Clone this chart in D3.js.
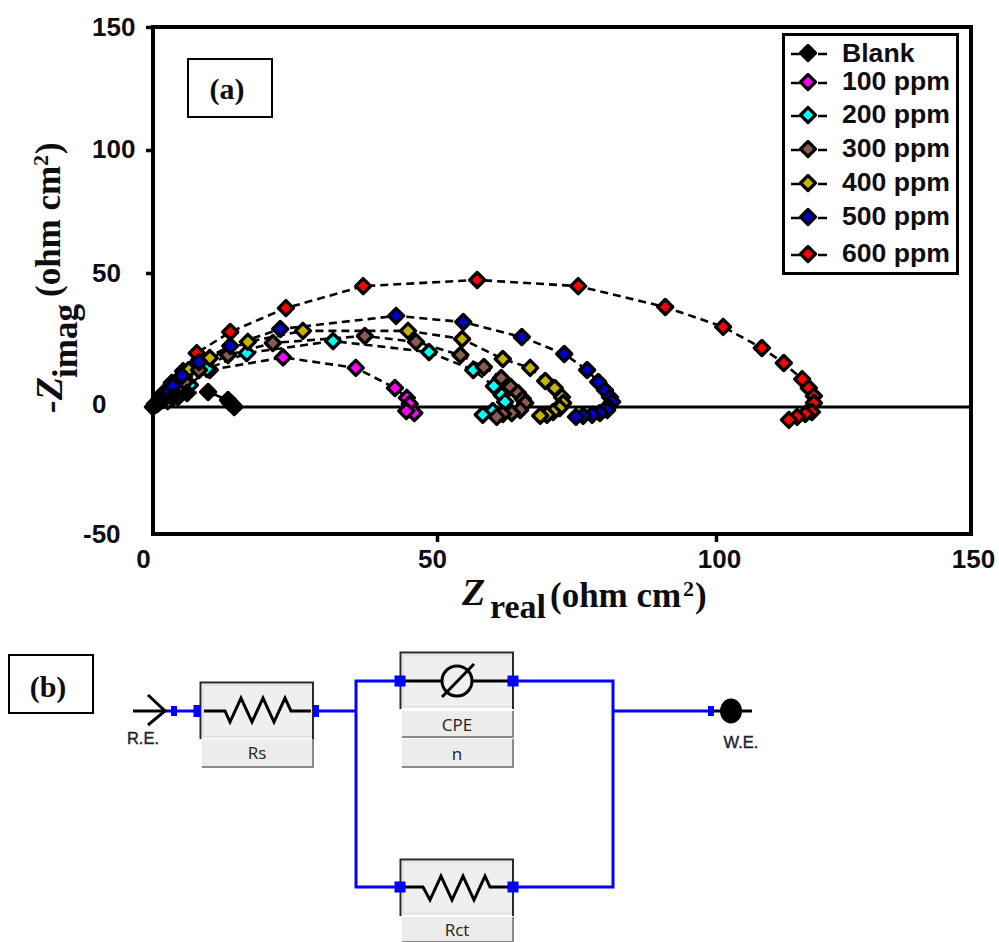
<!DOCTYPE html>
<html>
<head>
<meta charset="utf-8">
<script src="https://cdn.jsdelivr.net/npm/d3@7"></script>
<style>html,body{margin:0;padding:0;background:#fff}svg{display:block}</style>
</head>
<body>
<div id="chart"></div>
<script>
const seriesNames = ["Blank","100 ppm","200 ppm","300 ppm","400 ppm","500 ppm","600 ppm"];
const seriesColors = ["#000000","#ff00ff","#00ffff","#8b5a50","#c4b400","#0000cc","#ff0000"];
const xTicks = [0,50,100,150];
const yTicks = [-50,0,50,100,150];

const blankRe = [0,0.7,1.8,3.5,6.0,9.7,13.2,13.6,14.1,14.3];
const blankIm = [0,1.1,2.6,3.5,5.2,5.6,2.6,1.5,0.7,0];
const p100Re = [0.5,1.6,3.0,5.1,10.0,22.9,35.7,42.6,44.7,45.2,46.0,44.6];
const p100Im = [1.1,3.4,6.0,10.1,13.8,18.5,14.6,7.1,3.4,1.1,-2.4,-1.6];
const p200Re = [1.2,2.6,4.4,6.5,9.5,16.5,31.7,48.6,56.5,60.2,61.6,62.2,60.0,58.2];
const p200Im = [1.9,2.2,3.7,8.2,14.2,20.1,24.6,20.5,13.8,7.8,4.5,1.9,-1.6,-3.1];
const p300Re = [0.4,1.2,3.0,5.6,8.1,13.2,21.1,37.3,46.3,54.2,58.4,61.5,63.2,64.5,65.4,65.8,64.9,63.4,61.8,60.7];
const p300Im = [1.1,3.0,5.6,9.3,13.8,19.4,23.9,26.5,24.3,19.4,14.9,10.8,7.5,5.2,3.0,1.5,-1.2,-2.4,-2.8,-3.9];
const p400Re = [0.4,1.2,2.5,3.9,6.3,10.0,16.7,26.4,44.9,54.5,61.8,66.7,69.4,71.1,72.4,72.6,72.0,70.8,69.7,68.5];
const p400Im = [1.1,3.0,6.0,9.0,13.8,18.3,24.3,28.4,28.4,25.4,17.9,14.6,9.7,7.1,3.7,1.5,-0.4,-2.0,-3.1,-3.5];
const p500Re = [0.9,1.8,2.6,3.5,5.1,8.1,13.6,22.4,42.8,54.7,65.2,72.8,76.9,78.9,80.1,81.0,81.4,80.6,80.5,79.2,77.8,76.2,74.9];
const p500Im = [1.5,3.4,5.2,7.8,11.6,16.8,22.8,29.1,34.0,31.7,26.1,19.8,13.8,9.3,6.3,3.7,1.9,0,-1.2,-2.4,-3.1,-3.5,-3.9];
const p600Re = [0.9,1.9,3.3,5.3,7.7,13.6,23.4,37.0,57.2,75.3,90.9,101.4,109.0,113.3,116.9,118.2,119.2,119.2,118.8,117.5,115.9,114.3];
const p600Im = [1.9,5.2,9.0,13.4,20.1,28.0,36.9,45.1,47.4,45.1,37.3,29.9,22.0,16.4,10.4,7.1,4.1,1.5,-2.0,-2.8,-3.9,-5.1];

const allRe = [blankRe,p100Re,p200Re,p300Re,p400Re,p500Re,p600Re];
const allIm = [blankIm,p100Im,p200Im,p300Im,p400Im,p500Im,p600Im];
const drawOrder = [6,1,2,4,3,5,0];

const svg = d3.select("#chart").append("svg").attr("width",999).attr("height",942);
const sans = "'Liberation Sans',Arial,sans-serif", serif = "'Liberation Serif','Times New Roman',serif";
const ink = "#0d0d12";

const x = d3.scaleLinear().domain(xTicks).range([153,437,716,971]);
const y = d3.scaleLinear().domain(yTicks).range([533,407,273,150,27]);

// frame
svg.append("rect").attr("x",153).attr("y",27).attr("width",818).attr("height",507)
  .attr("fill","#fff").attr("stroke","#000").attr("stroke-width",4);

// axes
const xOff = {0:-10,50:-5,100:3,150:2};
const gx = svg.append("g").attr("transform","translate(0,534)")
  .call(d3.axisBottom(x).tickValues(xTicks).tickSize(8).tickPadding(7).tickFormat(String));
gx.select(".domain").remove();
gx.selectAll("line").attr("stroke","#000").attr("stroke-width",3.5)
  .attr("opacity",d=>(d===50||d===100)?1:0);
gx.selectAll("text").attr("font-family",sans).attr("font-weight",700).attr("font-size",26)
  .attr("fill",ink).attr("dx",d=>xOff[d]).attr("y",16).attr("dy","0.71em");

const yLab = {"-50":[-70,0],0:[-61,-4],50:[-61,-1],100:[-61,-2],150:[-61,-1]};
const gy = svg.append("g").attr("transform","translate(153,0)")
  .call(d3.axisLeft(y).tickValues(yTicks).tickSize(7).tickFormat(String));
gy.select(".domain").remove();
gy.selectAll("line").attr("stroke","#000").attr("stroke-width",3.5).attr("opacity",d=>d===-50?0:1);
gy.selectAll("text").attr("font-family",sans).attr("font-weight",700).attr("font-size",26)
  .attr("fill",ink).attr("text-anchor","start").attr("x",d=>yLab[d][0]).attr("dy",d=>yLab[d][1]+9);

// series
const path = d3.line().x(d=>x(d[0])).y(d=>y(d[1]));
const diamond = (cx,cy,r)=>`M${cx},${cy-r}L${cx+r},${cy}L${cx},${cy+r}L${cx-r},${cy}Z`;
drawOrder.forEach(i=>{
  const pts = d3.zip(allRe[i],allIm[i]);
  svg.append("path").attr("d",path(pts)).attr("fill","none").attr("stroke","#000")
    .attr("stroke-width",2.6).attr("stroke-dasharray","8 5");
});
// zero line
svg.append("line").attr("x1",x(0)).attr("x2",x(150)).attr("y1",y(0)).attr("y2",y(0))
  .attr("stroke","#000").attr("stroke-width",3);
drawOrder.forEach(i=>{
  const pts = d3.zip(allRe[i],allIm[i]);
  svg.append("g").selectAll("path").data(pts).join("path")
    .attr("d",d=>diamond(x(d[0]),y(d[1]),7.5))
    .attr("fill",seriesColors[i]).attr("stroke","#000").attr("stroke-width",3.4)
    .attr("stroke-linejoin","round");
});

// legend
svg.append("rect").attr("x",783.5).attr("y",34.5).attr("width",174).attr("height",239)
  .attr("fill","#fff").attr("stroke","#000").attr("stroke-width",3);
const rowY = [53,82,115,149,183,217,254];
const lg = svg.append("g").selectAll("g").data(seriesNames).join("g")
  .attr("transform",(d,i)=>`translate(0,${rowY[i]})`);
lg.append("line").attr("x1",791).attr("x2",827).attr("y1",1).attr("y2",1)
  .attr("stroke","#000").attr("stroke-width",2.4).attr("stroke-dasharray","9 18");
lg.append("path").attr("d",diamond(808,0,7.5)).attr("fill",(d,i)=>seriesColors[i])
  .attr("stroke","#000").attr("stroke-width",3.2).attr("stroke-linejoin","round");
lg.append("text").text(d=>d).attr("x",842).attr("y",(d,i)=>i===0?9:8).attr("font-family",sans)
  .attr("font-weight",700).attr("font-size",26.6).attr("fill",ink);

// panel label boxes
function panelLabel(bx,by,w,h,t,tx,ty){
  svg.append("rect").attr("x",bx).attr("y",by).attr("width",w).attr("height",h)
    .attr("fill","#fff").attr("stroke","#000").attr("stroke-width",2);
  svg.append("text").text(t).attr("x",tx).attr("y",ty).attr("text-anchor","middle")
    .attr("font-family",serif).attr("font-weight",700).attr("font-size",30).attr("fill",ink);
}
panelLabel(188,59,84,58,"(a)",227,99);
panelLabel(9,655,84,58,"(b)",48,697);

// axis titles
const ttl = (px,py,t,size,italic,rot)=>svg.append("text").text(t)
  .attr("transform",`translate(${px},${py}) rotate(${rot||0})`)
  .attr("font-family",serif).attr("font-weight",700).attr("font-size",size)
  .attr("font-style",italic?"italic":"normal").attr("fill",ink);
ttl(462,605,"Z",38,true);
ttl(490,618,"real",34);
ttl(550,607,"(ohm cm",35);
ttl(683,596,"2",22);
ttl(695,607,")",35);
ttl(62,413,"-Z",38,true,-90);
ttl(77,378,"imag",35,false,-90);
ttl(60,297,"(ohm cm",35,false,-90);
ttl(48,166,"2",22,false,-90);
ttl(60,154,")",35,false,-90);

// circuit (b)
const blue="#0000ff";
const circuitLabels = ["Rs","CPE","n","Rct"];
const wire = (pts,c,w)=>svg.append("path").attr("d",d3.line()(pts)).attr("fill","none")
  .attr("stroke",c).attr("stroke-width",w).attr("stroke-linejoin","miter");
function block(bx,by,h){
  svg.append("rect").attr("x",bx+3).attr("y",by+3).attr("width",110).attr("height",h-3).attr("fill","#efefef").attr("stroke","#d4d4d4");
  wire([[bx+.5,by+h+2],[bx+.5,by+.5],[bx+113,by+.5],[bx+113,by+h+2]],"#2a2a2a",2);
}
function labelBox(bx,by,h,t,base){
  svg.append("rect").attr("x",bx+2).attr("y",by).attr("width",111).attr("height",h).attr("fill","#ececec");
  wire([[bx+2,by+h],[bx+113,by+h],[bx+113,by]],"#8a8a8a",2);
  svg.append("text").text(t).attr("x",bx+57).attr("y",base).attr("text-anchor","middle")
    .attr("font-family","'Open Sans',"+sans).attr("font-size",17).attr("fill","#222");
}
block(200,682,55); labelBox(200,739,28,circuitLabels[0],759);
block(400,652,55); labelBox(400,711,26,circuitLabels[1],731); labelBox(400,739,28,circuitLabels[2],760);
block(400,859,55); labelBox(400,917,25,circuitLabels[3],936);

wire([[165,711],[200,711]],blue,3);
wire([[318,711],[356,711]],blue,3);
wire([[400,681],[356,681],[356,887],[400,887]],blue,3);
wire([[513,681],[613,681],[613,887],[513,887]],blue,3);
wire([[613,711],[708,711]],blue,3);
const sq=(cx,cy,w,h)=>svg.append("rect").attr("x",cx-w/2).attr("y",cy-h/2).attr("width",w).attr("height",h).attr("fill",blue);
sq(174,711,6,10);sq(197,711,7,12);sq(316,711,6,12);
sq(400,681,11,11);sq(513,681,11,11);sq(400,887,11,11);sq(513,887,11,11);sq(711,711,6,10);

wire([[133,711],[165,711]],"#000",3);
wire([[148,695],[165,711],[148,725]],"#000",3);
wire([[204,711],[225,711],[230,722],[241,698],[252,722],[263,698],[274,722],[285,698],[291,711],[311,711]],"#000",3);
wire([[405,887],[423,887],[430,900],[441,876],[452,900],[463,876],[474,900],[485,876],[490,887],[508,887]],"#000",3);
wire([[405,681],[442,681]],"#000",3);
wire([[472,681],[508,681]],"#000",3);
svg.append("circle").attr("cx",457).attr("cy",681).attr("r",15).attr("fill","none").attr("stroke","#000").attr("stroke-width",3);
wire([[442,697],[474,664]],"#000",3);
wire([[714,711],[752,711]],"#000",3);
svg.append("ellipse").attr("cx",731).attr("cy",711).attr("rx",11).attr("ry",12.5).attr("fill","#000");
[["R.E.",143,744],["W.E.",741,748]].forEach(a=>svg.append("text").text(a[0]).attr("x",a[1]).attr("y",a[2])
  .attr("text-anchor","middle").attr("font-family",sans).attr("font-size",16.5).attr("stroke","#223").attr("stroke-width",0.4).attr("fill","#223"));
</script>
</body>
</html>
